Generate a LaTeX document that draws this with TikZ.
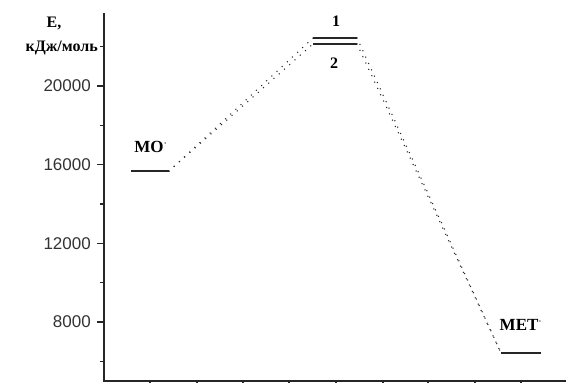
\documentclass[tikz,border=0pt]{standalone}
\usepackage{fontspec}
\setmainfont{Liberation Serif}
\newfontfamily\axisfont{Liberation Sans}
\usetikzlibrary{positioning}

\begin{document}
\begin{tikzpicture}[x=1pt, y=-1pt,
  axis/.style={line width=1.1pt, black!85},
  level/.style={line width=1.5pt, black!85},
  trans/.style={line width=1.5pt, line cap=round, dash pattern=on 0pt off 7pt, black!85},
  lbl/.style={font=\bfseries\fontsize{16}{16}\selectfont, inner sep=0pt},
  ticklbl/.style={font=\axisfont\fontsize{17}{17}\selectfont, text=black!80, anchor=east, inner sep=0pt}
]
  \useasboundingbox (0,0) rectangle (566,383);

  % Axes
  \coordinate (top) at (104,13);
  \coordinate (origin) at (104,381);
  \coordinate (right) at (566,381);
  \draw[axis] (top) -- (origin) -- (right);

  % Energy ticks (in thousands)
  \foreach \e/\lbl in {8/8000, 12/12000, 16/16000, 20/20000}{
    \pgfmathsetmacro{\ypos}{322-(\e-8)*19.667}
    \draw[axis] (97,\ypos) -- (104,\ypos);
    \node[ticklbl] at (91,\ypos) {\lbl};
  }
  \foreach \e in {6, 10, 14, 18, 22}{
    \pgfmathsetmacro{\ypos}{322-(\e-8)*19.667}
    \draw[axis] (100,\ypos) -- (104,\ypos);
  }
  \foreach \x in {150,197,243,289,336,383,428,475,521}{
    \draw[axis] (\x,381) -- (\x,388);
  }

  \node[lbl] (etitle) at (54,23) {E,};
  \node[lbl, anchor=east] (eunit) at (98,48) {кДж/моль};

  % Levels
  \coordinate (moL) at (131,171);
  \coordinate (moR) at (169,171);
  \coordinate (p1L) at (313,38);
  \coordinate (p1R) at (357,38);
  \coordinate (p2L) at (313,44);
  \coordinate (p2R) at (357,44);
  \coordinate (metL) at (501,353);
  \coordinate (metR) at (541,353);
  \draw[level] (moL) -- (moR);
  \draw[level] (p1L) -- (p1R);
  \draw[level] (p2L) -- (p2R);
  \draw[level] (metL) -- (metR);

  \node[lbl, font=\bfseries\fontsize{17}{17}\selectfont] (mo) at (151,147) {MO$^{\cdot}$};
  \node[lbl] (lvl1) at (336,21) {1};
  \node[lbl] (lvl2) at (334,63) {2};
  \node[lbl, font=\bfseries\fontsize{17}{17}\selectfont] (met) at (521,325) {MET$^{\cdot}$};

  % Transitions
  \draw[trans] (moR) -- (p1L);
  \draw[trans] (moR) -- (p2L);
  \draw[trans] (p1R) -- (metL);
  \draw[trans] (p2R) -- (metL);
\end{tikzpicture}
\end{document}
